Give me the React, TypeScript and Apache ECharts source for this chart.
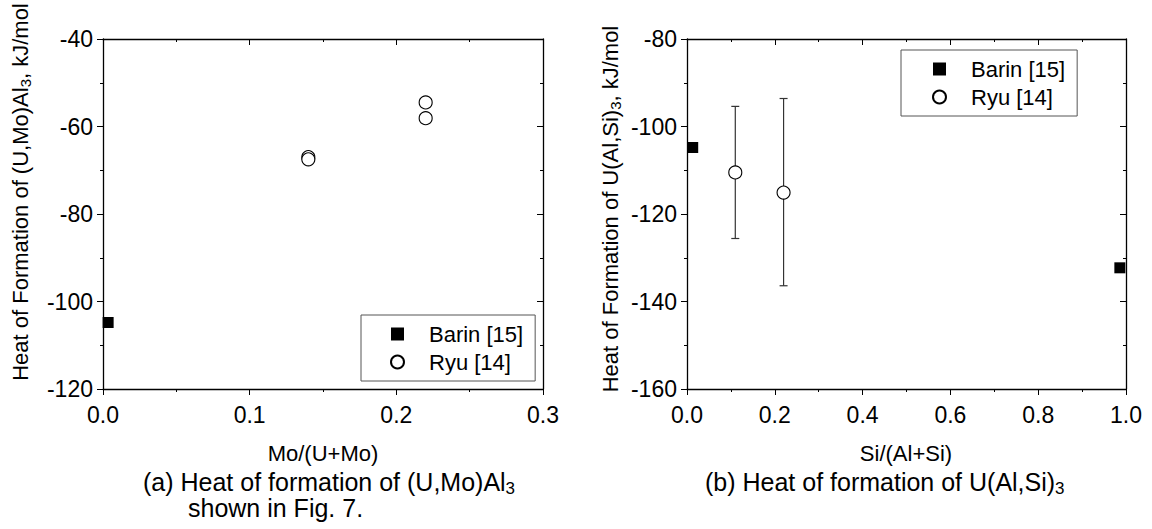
import React, { useEffect, useRef } from "react";
import * as echarts from "echarts";

// ---- data ----
const xTicksA = [0, 0.1, 0.2, 0.3];
const yTicksA = [-120, -100, -80, -60, -40];
const xTicksB = [0, 0.2, 0.4, 0.6, 0.8, 1.0];
const yTicksB = [-160, -140, -120, -100, -80];

const barinA: number[][] = [[0.0035, -104.8]];
const ryuA: number[][] = [
  [0.14, -67.0],
  [0.14, -67.5],
  [0.22, -54.5],
  [0.22, -58.1],
];
const barinB: number[][] = [
  [0.013, -104.8],
  [0.986, -132.3],
];
const ryuB: number[][] = [
  [0.11, -110.5],
  [0.22, -115.1],
];
// [x, low, high]
const ryuBErr: number[][] = [
  [0.11, -125.6, -95.4],
  [0.22, -136.4, -93.6],
];

const legendNames = ["Barin [15]", "Ryu [14]"];

const FONT = "'Liberation Sans', Arial, Helvetica, sans-serif";
const BLACK = "#000";

function xAxisPair(gridIndex: number, ticks: number[]) {
  const min = ticks[0];
  const max = ticks[ticks.length - 1];
  const interval = ticks[1] - ticks[0];
  const common = {
    type: "value" as const,
    gridIndex,
    min,
    max,
    interval,
    splitLine: { show: false },
    axisLine: { show: true, onZero: false, lineStyle: { color: BLACK, width: 1.3 } },
    minorTick: { show: true, splitNumber: 2, length: 3, lineStyle: { color: BLACK, width: 1 } },
    minorSplitLine: { show: false },
  };
  return [
    {
      ...common,
      position: "bottom",
      axisTick: { show: true, inside: false, length: 6, lineStyle: { color: BLACK, width: 1 } },
      axisLabel: {
        show: true,
        color: BLACK,
        fontSize: 23,
        fontFamily: FONT,
        margin: 14,
        formatter: (v: number) => v.toFixed(1),
      },
    },
    {
      ...common,
      position: "top",
      axisTick: { show: true, inside: true, length: 6, lineStyle: { color: BLACK, width: 1 } },
      axisLabel: { show: false },
    },
  ];
}

function yAxisPair(gridIndex: number, ticks: number[]) {
  const min = ticks[0];
  const max = ticks[ticks.length - 1];
  const interval = ticks[1] - ticks[0];
  const common = {
    type: "value" as const,
    gridIndex,
    min,
    max,
    interval,
    splitLine: { show: false },
    axisLine: { show: true, onZero: false, lineStyle: { color: BLACK, width: 1.3 } },
    minorTick: { show: true, splitNumber: 2, length: 3, lineStyle: { color: BLACK, width: 1 } },
    minorSplitLine: { show: false },
  };
  return [
    {
      ...common,
      position: "left",
      axisTick: { show: true, inside: false, length: 6, lineStyle: { color: BLACK, width: 1 } },
      axisLabel: {
        show: true,
        color: BLACK,
        fontSize: 23,
        fontFamily: FONT,
        margin: 10,
      },
    },
    {
      ...common,
      position: "right",
      axisTick: { show: true, inside: true, length: 6, lineStyle: { color: BLACK, width: 1 } },
      axisLabel: { show: false },
    },
  ];
}

const subRich = {
  sub: { fontSize: 15, fontFamily: FONT, verticalAlign: "bottom", lineHeight: 15, fill: BLACK },
};

function legendCfg(left: number, top: number, padLeft: number) {
  return {
    data: [{ name: legendNames[0] }, { name: legendNames[1] }],
    orient: "vertical",
    left,
    top,
    itemWidth: 13,
    itemHeight: 13,
    itemGap: 6,
    padding: [8, 12, 8, padLeft],
    borderColor: "#555",
    borderWidth: 1,
    backgroundColor: "#fff",
    selectedMode: false,
    textStyle: { fontSize: 22, fontFamily: FONT, color: BLACK, padding: [0, 0, 0, 20] },
  };
}

export default function App() {
  const ref = useRef<HTMLDivElement>(null);

  useEffect(() => {
    if (!ref.current) return;
    const chart = echarts.init(ref.current, undefined, { renderer: "svg" });

    const squareStyle = { color: BLACK, opacity: 1 };
    const circleStyle = { color: "#fff", borderColor: BLACK, borderWidth: 1.1, opacity: 1 };

    const option: any = {
      animation: false,
      backgroundColor: "#fff",
      grid: [
        { left: 103, top: 39, width: 440, height: 350 },
        { left: 687, top: 39, width: 439, height: 350 },
      ],
      xAxis: [...xAxisPair(0, xTicksA), ...xAxisPair(1, xTicksB)],
      yAxis: [...yAxisPair(0, yTicksA), ...yAxisPair(1, yTicksB)],
      legend: [legendCfg(361, 315, 29), legendCfg(901, 50, 31)],
      series: [
        {
          name: legendNames[0],
          type: "scatter",
          xAxisIndex: 0,
          yAxisIndex: 0,
          symbol: "rect",
          symbolSize: 11,
          itemStyle: squareStyle,
          data: barinA,
          z: 5,
        },
        {
          name: legendNames[1],
          type: "scatter",
          xAxisIndex: 0,
          yAxisIndex: 0,
          symbol: "circle",
          symbolSize: 13,
          itemStyle: circleStyle,
          data: ryuA,
          z: 5,
        },
        {
          name: legendNames[0],
          type: "scatter",
          xAxisIndex: 2,
          yAxisIndex: 2,
          symbol: "rect",
          symbolSize: 11,
          itemStyle: squareStyle,
          data: barinB,
          z: 5,
        },
        {
          name: "errB",
          type: "custom",
          xAxisIndex: 2,
          yAxisIndex: 2,
          data: ryuBErr,
          encode: { x: 0, y: [1, 2] },
          z: 3,
          renderItem: (params: any, api: any) => {
            const x = api.value(0);
            const lo = api.value(1);
            const hi = api.value(2);
            const top = api.coord([x, hi]);
            const bot = api.coord([x, lo]);
            const cap = 4;
            const style = { stroke: "#333", lineWidth: 1.2 };
            return {
              type: "group",
              children: [
                { type: "line", shape: { x1: top[0], y1: top[1], x2: bot[0], y2: bot[1] }, style },
                { type: "line", shape: { x1: top[0] - cap, y1: top[1], x2: top[0] + cap, y2: top[1] }, style },
                { type: "line", shape: { x1: bot[0] - cap, y1: bot[1], x2: bot[0] + cap, y2: bot[1] }, style },
              ],
            };
          },
        },
        {
          name: legendNames[1],
          type: "scatter",
          xAxisIndex: 2,
          yAxisIndex: 2,
          symbol: "circle",
          symbolSize: 13,
          itemStyle: circleStyle,
          data: ryuB,
          z: 5,
        },
      ],
      graphic: [
        {
          type: "text",
          x: 20,
          y: 192,
          rotation: Math.PI / 2,
          style: {
            text: "Heat of Formation of (U,Mo)Al{sub|3}, kJ/mol",
            fontSize: 22,
            fontFamily: FONT,
            fill: BLACK,
            align: "center",
            verticalAlign: "middle",
            lineHeight: 26,
            rich: subRich,
          },
        },
        {
          type: "text",
          x: 610,
          y: 209,
          rotation: Math.PI / 2,
          style: {
            text: "Heat of Formation of U(Al,Si){sub|3}, kJ/mol",
            fontSize: 22,
            fontFamily: FONT,
            fill: BLACK,
            align: "center",
            verticalAlign: "middle",
            lineHeight: 26,
            rich: subRich,
          },
        },
        {
          type: "text",
          x: 323,
          y: 453,
          style: {
            text: "Mo/(U+Mo)",
            fontSize: 22,
            fontFamily: FONT,
            fill: BLACK,
            align: "center",
            verticalAlign: "middle",
          },
        },
        {
          type: "text",
          x: 906,
          y: 453,
          style: {
            text: "Si/(Al+Si)",
            fontSize: 22,
            fontFamily: FONT,
            fill: BLACK,
            align: "center",
            verticalAlign: "middle",
          },
        },
        {
          type: "text",
          x: 143,
          y: 482,
          style: {
            text: "(a) Heat of formation of (U,Mo)Al{sub|3}",
            fontSize: 25,
            fontFamily: FONT,
            fill: BLACK,
            align: "left",
            verticalAlign: "middle",
            lineHeight: 30,
            rich: { sub: { fontSize: 17, fontFamily: FONT, verticalAlign: "bottom", lineHeight: 17, fill: BLACK } },
          },
        },
        {
          type: "text",
          x: 188,
          y: 508,
          style: {
            text: "shown in Fig. 7.",
            fontSize: 25,
            fontFamily: FONT,
            fill: BLACK,
            align: "left",
            verticalAlign: "middle",
          },
        },
        {
          type: "text",
          x: 705,
          y: 482,
          style: {
            text: "(b) Heat of formation of U(Al,Si){sub|3}",
            fontSize: 25,
            fontFamily: FONT,
            fill: BLACK,
            align: "left",
            verticalAlign: "middle",
            lineHeight: 30,
            rich: { sub: { fontSize: 17, fontFamily: FONT, verticalAlign: "bottom", lineHeight: 17, fill: BLACK } },
          },
        },
      ],
    };

    chart.setOption(option);
    return () => {
      chart.dispose();
    };
  }, []);

  return (
    <div
      ref={ref}
      style={{ position: "absolute", left: 0, top: 0, width: 1152, height: 529, background: "#fff" }}
    />
  );
}
